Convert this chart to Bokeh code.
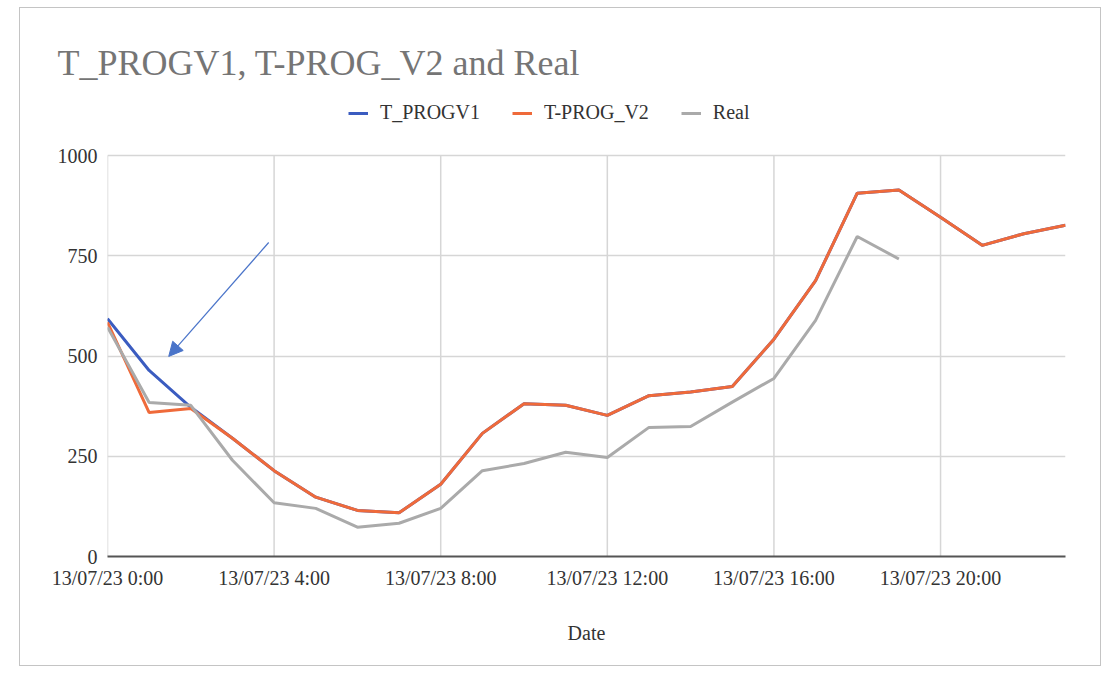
from bokeh.plotting import figure
from bokeh.models import (ColumnDataSource, FixedTicker, Legend, LegendItem,
                          Arrow, NormalHead, Range1d)
from bokeh.embed import file_html
from bokeh.resources import INLINE

# ---- data (hourly, 13/07/23) ----
hours = list(range(24))
t_progv1 = [593, 464, 372, 295, 214, 148, 115, 109, 180, 307, 381, 377,
            352, 401, 410, 424, 542, 688, 906, 914, 846, 776, 805, 826]
t_prog_v2 = [584, 359, 369, 295, 214, 148, 115, 109, 180, 307, 381, 377,
             352, 401, 410, 424, 542, 688, 906, 914, 846, 776, 805, 826]
real_hours = list(range(20))
real = [572, 384, 377, 240, 134, 120, 73, 83, 120, 214, 232, 260,
        247, 322, 324, 385, 444, 589, 798, 742]

tick_hours = [0, 4, 8, 12, 16, 20]
tick_labels = ["13/07/23 0:00", "13/07/23 4:00", "13/07/23 8:00",
               "13/07/23 12:00", "13/07/23 16:00", "13/07/23 20:00"]
y_ticks = [0, 250, 500, 750, 1000]

title_text = "T_PROGV1, T-PROG_V2 and Real"
series_names = ["T_PROGV1", "T-PROG_V2", "Real"]
colors = ["#3b5cc0", "#ef6a3a", "#aaaaaa"]

# annotation arrow (data coordinates)
arrow_start = (3.87, 783)
arrow_end = (1.47, 499)

FONT = "Liberation Serif"
GRID = "#d6d6d6"

# frame: 958 x 468 px; value axis 0..1000 occupies the lower 401 px,
# the space above holds the legend
y_top = 1000 * 468 / 401

p = figure(width=1080, height=657, output_backend="svg", toolbar_location=None,
           x_range=Range1d(0, 23), y_range=Range1d(0, y_top),
           min_border_left=87, min_border_right=35, min_border_top=80,
           min_border_bottom=109, margin=(8, 0, 0, 20),
           styles={"outline": "1.5px solid #c4c4c4"})
p.outline_line_color = None
p.background_fill_color = "white"
p.border_fill_color = "white"

p.title.text = title_text
p.title.text_font = FONT
p.title.text_font_size = "36px"
p.title.text_font_style = "normal"
p.title.text_color = "#757575"
p.title.align = "left"
p.title.offset = -50
p.title.standoff = 12

# vertical grid lines limited to the value range
p.segment(x0=tick_hours, y0=[min(y_ticks)] * len(tick_hours),
          x1=tick_hours, y1=[max(y_ticks)] * len(tick_hours),
          line_color=GRID, line_width=1.5)

src1 = ColumnDataSource(dict(x=hours, y=t_progv1))
src2 = ColumnDataSource(dict(x=hours, y=t_prog_v2))
src3 = ColumnDataSource(dict(x=real_hours, y=real))

r1 = p.line("x", "y", source=src1, line_color=colors[0], line_width=3)
r2 = p.line("x", "y", source=src2, line_color=colors[1], line_width=3)
r3 = p.line("x", "y", source=src3, line_color=colors[2], line_width=3)

# axes
p.xaxis.ticker = FixedTicker(ticks=tick_hours)
p.xaxis.major_label_overrides = {h: lab for h, lab in zip(tick_hours, tick_labels)}
p.yaxis.ticker = FixedTicker(ticks=y_ticks)
p.yaxis.bounds = (min(y_ticks), max(y_ticks))
for ax in (p.xaxis[0], p.yaxis[0]):
    ax.major_tick_line_color = None
    ax.minor_tick_line_color = None
    ax.major_tick_out = 0
    ax.major_tick_in = 0
    ax.minor_tick_out = 0
    ax.major_label_text_font = FONT
    ax.major_label_text_font_size = "20px"
    ax.major_label_text_color = "#333333"
p.yaxis.major_label_standoff = 10
p.xaxis.major_label_standoff = 10
p.yaxis.axis_line_color = None
p.xaxis.axis_line_color = "#555555"
p.xaxis.axis_line_width = 2
p.xaxis.axis_label = "Date"
p.xaxis.axis_label_text_font = FONT
p.xaxis.axis_label_text_font_size = "20px"
p.xaxis.axis_label_text_font_style = "normal"
p.xaxis.axis_label_text_color = "#333333"
p.xaxis.axis_label_standoff = 30

p.xgrid.visible = False
p.ygrid.ticker = FixedTicker(ticks=y_ticks)
p.ygrid.grid_line_color = GRID
p.ygrid.grid_line_width = 1.5

# legend (inside the frame, above the value area)
legend = Legend(items=[LegendItem(label=n, renderers=[r]) for n, r in
                       zip(series_names, [r1, r2, r3])],
                orientation="horizontal", location=(241, 432),
                label_text_font=FONT, label_text_font_size="20px",
                label_text_color="#333333", glyph_width=20, glyph_height=20,
                label_height=20, label_standoff=12, spacing=32, padding=0,
                margin=0, border_line_color=None, background_fill_alpha=0)
p.add_layout(legend, "center")

# arrow annotation
p.add_layout(Arrow(x_start=arrow_start[0], y_start=arrow_start[1],
                   x_end=arrow_end[0], y_end=arrow_end[1],
                   line_color="#4a74c9", line_width=1.2,
                   end=NormalHead(size=14, fill_color="#4a74c9",
                                  line_color="#4a74c9")))

open("out.html", "w").write(file_html(p, INLINE))
